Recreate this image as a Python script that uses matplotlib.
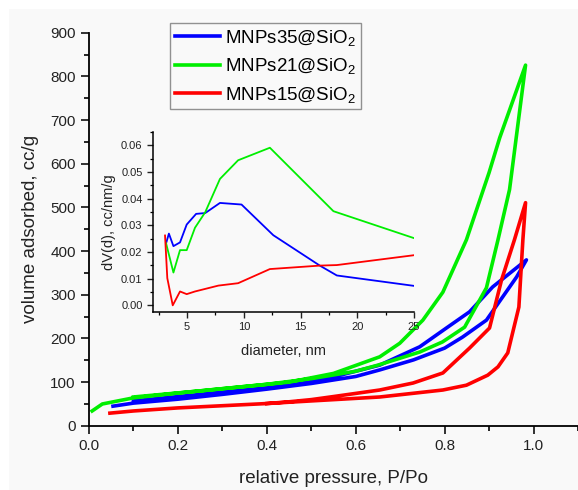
import numpy as np
import matplotlib
matplotlib.use("Agg")
import matplotlib.pyplot as plt
from matplotlib.patches import Rectangle
from matplotlib.ticker import MultipleLocator

plt.rcParams['font.family'] = ['Liberation Sans', 'DejaVu Sans']
plt.rcParams['mathtext.fontset'] = 'custom'
plt.rcParams['mathtext.rm'] = 'Liberation Sans'
plt.rcParams['mathtext.it'] = 'Liberation Sans'

# isotherms: adsorption branch then desorption branch (P/Po, cc/g)
p35_ads = [0.054, 0.1, 0.2, 0.3, 0.4, 0.5, 0.6, 0.654, 0.73, 0.8, 0.84, 0.894, 0.962, 0.984]
v35_ads = [45, 52, 61, 72, 84, 97, 113, 128, 151, 178, 203, 242, 341, 380]
p35_des = [0.984, 0.908, 0.856, 0.804, 0.744, 0.654, 0.55, 0.45, 0.35, 0.25, 0.1]
v35_des = [380, 318, 261, 224, 181, 139, 112, 97, 85, 72, 57]

p21_ads = [0.007, 0.03, 0.055, 0.1, 0.2, 0.3, 0.4, 0.5, 0.6, 0.65, 0.744, 0.795, 0.845, 0.894, 0.92, 0.946, 0.982]
v21_ads = [34, 50, 55, 64, 75, 85, 95, 108, 125, 139, 169, 192, 226, 316, 426, 541, 826]
p21_des = [0.982, 0.924, 0.90, 0.849, 0.796, 0.751, 0.699, 0.654, 0.55, 0.45, 0.35, 0.25, 0.1]
v21_des = [826, 660, 580, 426, 306, 242, 189, 158, 120, 100, 90, 80, 66]

p15_ads = [0.047, 0.1, 0.2, 0.3, 0.4, 0.5, 0.654, 0.796, 0.849, 0.897, 0.92, 0.942, 0.967, 0.976, 0.982]
v15_ads = [29, 34, 41, 46, 51, 57, 66, 82, 93, 116, 135, 167, 272, 426, 511]
p15_des = [0.982, 0.957, 0.928, 0.901, 0.856, 0.796, 0.729, 0.654, 0.55, 0.5, 0.45, 0.4]
v15_des = [511, 426, 334, 224, 178, 121, 98, 82, 67, 60, 55, 51]

# pore size distributions (nm, cc/nm/g)
d35 = [3.15, 3.4, 3.8, 4.38, 4.97, 5.8, 6.6, 7.9, 9.8, 12.6, 16.7, 18.2, 25]
dv35 = [0.0232, 0.0269, 0.0222, 0.0236, 0.0303, 0.0343, 0.0346, 0.0384, 0.0378, 0.0263, 0.0149, 0.0112, 0.0073]
d21 = [3.15, 3.8, 4.38, 4.97, 5.7, 6.6, 7.9, 9.5, 12.3, 17.9, 25]
dv21 = [0.0233, 0.0123, 0.0207, 0.0207, 0.0291, 0.0349, 0.0474, 0.0544, 0.0591, 0.0353, 0.0252]
d15 = [3.06, 3.26, 3.74, 4.38, 4.97, 5.7, 7.76, 9.5, 12.3, 16.7, 18.2, 25]
dv15 = [0.0262, 0.0102, 0.0, 0.0052, 0.0042, 0.0052, 0.0074, 0.0083, 0.0136, 0.0149, 0.0151, 0.0188]

labels = ['MNPs35@SiO$_2$', 'MNPs21@SiO$_2$', 'MNPs15@SiO$_2$']
colors = ['#0000ff', '#00ee00', '#ff0000']

fig = plt.figure(figsize=(5.78, 4.90), dpi=100, facecolor='white')
fig.patches.append(Rectangle((9 / 578, 0), 1, 1 - 9 / 490, transform=fig.transFigure,
                             facecolor='#f9f9f9', edgecolor='none', zorder=-10))

ax = fig.add_axes([0.154, 0.131, 0.846, 0.802])
ax.set_facecolor('none')
iso = [(p35_ads + p35_des, v35_ads + v35_des),
       (p21_ads + p21_des, v21_ads + v21_des),
       (p15_ads + p15_des, v15_ads + v15_des)]
for (p, v), c, lab in zip(iso, colors, labels):
    ax.plot(p, v, color=c, lw=2.6, label=lab, solid_joinstyle='round')

ax.set_xlim(0, 1.1)
ax.set_ylim(0, 900)
ax.xaxis.set_major_locator(MultipleLocator(0.2))
ax.xaxis.set_minor_locator(MultipleLocator(0.1))
ax.yaxis.set_major_locator(MultipleLocator(100))
ax.yaxis.set_minor_locator(MultipleLocator(50))
ax.xaxis.set_major_formatter(plt.FuncFormatter(lambda x, _: f'{x:.1f}'))
for s in ['top', 'right']:
    ax.spines[s].set_visible(False)
for s in ['left', 'bottom']:
    ax.spines[s].set_linewidth(1.3)
ax.tick_params(which='major', direction='out', length=6, width=1.3, labelsize=11, colors='#222222')
ax.tick_params(which='minor', direction='out', length=3.5, width=1.2)
ax.set_xlabel('relative pressure, P/Po', fontsize=13.5, color='#222222', labelpad=12)
ax.set_ylabel('volume adsorbed, cc/g', fontsize=13.5, color='#222222', labelpad=8)

leg = ax.legend(loc='upper left', bbox_to_anchor=(170 / 578, 1 - 23 / 490),
                bbox_transform=fig.transFigure, fontsize=13.5, frameon=True,
                fancybox=False, handlelength=2.4, handletextpad=0.3,
                borderpad=0.25, labelspacing=0.45, borderaxespad=0)
leg.get_frame().set_edgecolor('#777777')
leg.get_frame().set_linewidth(1.0)
leg.get_frame().set_facecolor('#f9f9f9')
for line in leg.get_lines():
    line.set_linewidth(2.6)

# inset
ins = fig.add_axes([153 / 578, 1 - 312 / 490, (414 - 153) / 578, (312 - 132) / 490])
ins.set_facecolor('none')
for d, dv, c in zip([d35, d21, d15], [dv35, dv21, dv15], colors):
    ins.plot(d, dv, color=c, lw=1.3)
ins.set_xlim(2, 25)
ins.set_ylim(-0.0025, 0.065)
ins.xaxis.set_major_locator(MultipleLocator(5))
ins.xaxis.set_minor_locator(MultipleLocator(2.5))
ins.yaxis.set_major_locator(MultipleLocator(0.01))
ins.yaxis.set_minor_locator(MultipleLocator(0.005))
ins.yaxis.set_major_formatter(plt.FuncFormatter(lambda y, _: f'{y:.2f}'))
for s in ['top', 'right']:
    ins.spines[s].set_visible(False)
for s in ['left', 'bottom']:
    ins.spines[s].set_linewidth(1.1)
ins.tick_params(which='major', direction='out', length=4, width=1.0, labelsize=8, colors='#222222')
ins.tick_params(which='minor', direction='out', length=2.5, width=0.9)
ins.set_xlabel('diameter, nm', fontsize=10.5, color='#222222', labelpad=8)
ins.set_ylabel('dV(d), cc/nm/g', fontsize=10.5, color='#222222', labelpad=4)

fig.savefig('out.png', dpi=100, facecolor=fig.get_facecolor())
